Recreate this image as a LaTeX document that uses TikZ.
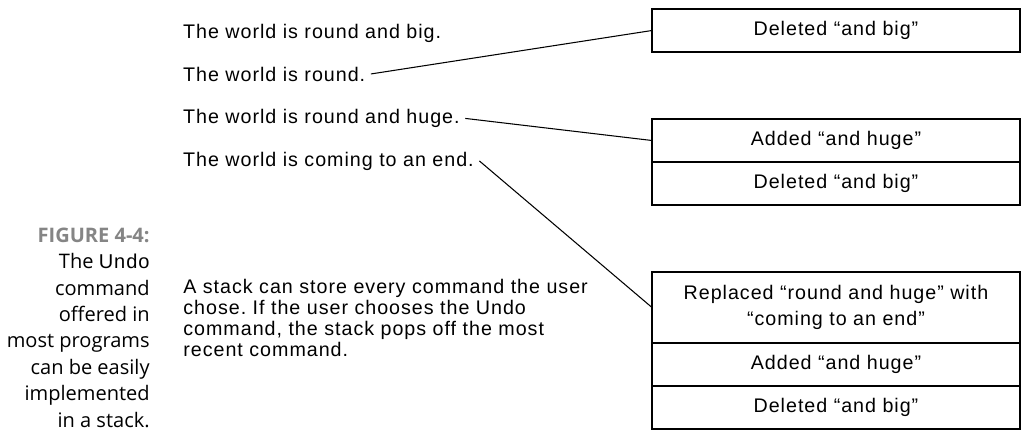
\documentclass[tikz,border=0pt]{standalone}
\usepackage{fontspec}
\setmainfont{Liberation Sans}[LetterSpace=5]
\newfontfamily\capfont{Open Sans}
\usetikzlibrary{positioning}
\definecolor{figgray}{RGB}{133,133,133}
\frenchspacing

\begin{document}
\begin{tikzpicture}[x=0.02cm, y=-0.02cm,
		sentence/.style={font=\fontsize{11.2}{13}\selectfont, inner sep=3pt},
		cell/.style={draw, line width=0.8pt, outer sep=0pt, inner sep=0pt, minimum width=7.36cm, minimum height=0.86cm, font=\fontsize{11.2}{14.5}\selectfont, align=center},
		link/.style={line width=0.6pt}]
		\useasboundingbox (0,0) rectangle (1021,433);
		
		% caption
		\node[anchor=base east, inner sep=0pt, align=right, font=\capfont\fontsize{11.4}{15}\selectfont] (cap) at (150,427)
			{{\bfseries\color{figgray}FIGURE 4-4:}\\The {\rmfamily Undo}\\command\\offered in\\most programs\\can be easily\\implemented\\in a stack.};
		
		% versions of the sentence
		\node[sentence, anchor=base west] (big) at (177.5,38) {The world is round and big.};
		\node[sentence, anchor=base west] (round) at (177.5,81) {The world is round.};
		\node[sentence, anchor=base west] (huge) at (177.5,123.5) {The world is round and huge.};
		\node[sentence, anchor=base west] (end) at (177.5,166) {The world is coming to an end.};
		
		\node[anchor=base west, inner sep=0pt, align=left, font=\fontsize{11.2}{11.8}\selectfont] (note) at (183,356)
			{A stack can store every command the user\\chose. If the user chooses the Undo\\command, the stack pops off the most\\recent command.};
		
		% the stack after each step
		\node[cell, anchor=north west] (s1a) at (652,9) {Deleted “and big”};
		
		\node[cell, anchor=north west] (s2a) at (652,119) {Added “and huge”};
		\node[cell, below=0pt of s2a] (s2b) {Deleted “and big”};
		
		\node[cell, anchor=north west, minimum height=1.42cm] (s3a) at (652,272) {Replaced “round and huge” with\\“coming to an end”};
		\node[cell, below=0pt of s3a] (s3b) {Added “and huge”};
		\node[cell, below=0pt of s3b] (s3c) {Deleted “and big”};
		
		\draw[link] (round.east) -- (s1a.west);
		\draw[link] (huge.east) -- (s2a.west);
		\draw[link] (end.east) -- (s3a.west);
	\end{tikzpicture}
\end{document}
